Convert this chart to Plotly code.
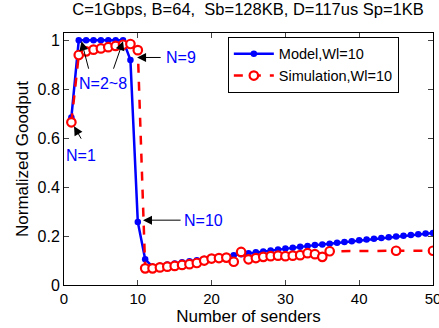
import plotly.graph_objects as go

# ---- data ----
model_x = list(range(1, 51))
model_y = [0.685, 1.0, 1.0, 1.0, 1.0, 1.0, 1.0, 1.0, 0.92, 0.258,
           0.105, 0.075, 0.079, 0.084, 0.088, 0.093, 0.097, 0.101, 0.106, 0.110,
           0.114, 0.118, 0.122, 0.126, 0.130, 0.134, 0.137, 0.141, 0.145, 0.149,
           0.152, 0.156, 0.159, 0.163, 0.166, 0.169, 0.173, 0.176, 0.179, 0.183,
           0.186, 0.189, 0.192, 0.195, 0.198, 0.201, 0.204, 0.207, 0.210, 0.213]

sim_x = list(range(1, 37)) + [45, 50]
sim_y = [0.665, 0.94, 0.955, 0.962, 0.967, 0.972, 0.977, 0.982, 0.985, 0.96,
         0.068, 0.068, 0.072, 0.075, 0.078, 0.082, 0.085, 0.090, 0.100, 0.108,
         0.110, 0.112, 0.095, 0.135, 0.105, 0.110, 0.115, 0.118, 0.120, 0.118,
         0.120, 0.122, 0.130, 0.126, 0.115, 0.138, 0.140, 0.140]

title_text = "C=1Gbps, B=64,  Sb=128KB, D=117us Sp=1KB"
x_ticks = [0, 10, 20, 30, 40, 50]
y_ticks = [0, 0.2, 0.4, 0.6, 0.8, 1]
y_tick_labels = ["0", "0.2", "0.4", "0.6", "0.8", "1"]

FONT = "Liberation Sans, Arial, sans-serif"

fig = go.Figure()
fig.add_trace(go.Scatter(
    x=model_x, y=model_y, mode="lines+markers", name="Model,Wl=10",
    line=dict(color="#0000FF", width=2.5),
    marker=dict(color="#0000FF", size=6.5, symbol="circle"),
))
fig.add_trace(go.Scatter(
    x=sim_x, y=sim_y, mode="lines+markers", name="Simulation,Wl=10",
    line=dict(color="#FF0000", width=2.5, dash="dash"),
    marker=dict(color="white", size=8.5, symbol="circle",
                line=dict(color="#FF0000", width=2.2)),
))

ann = []
def arrow(hx, hy, tx, ty):
    ann.append(dict(x=hx, y=hy, ax=tx, ay=ty, xref="x", yref="y",
                    axref="x", ayref="y", text="", showarrow=True,
                    arrowhead=2, arrowsize=1.8, arrowwidth=1, arrowcolor="black"))

def label(x, y, t):
    ann.append(dict(x=x, y=y, xref="x", yref="y", text=t, showarrow=False,
                    font=dict(color="#0000FF", size=16, family=FONT)))

arrow(1.36, 0.649, 2.44, 0.592)
label(2.3, 0.53, "N=1")
arrow(2.37, 0.996, 3.39, 0.878)
arrow(8.0, 0.996, 6.64, 0.878)
label(5.3, 0.825, "N=2~8")
arrow(9.9, 0.93, 13.3, 0.93)
label(15.9, 0.93, "N=9")
arrow(10.7, 0.265, 16.0, 0.265)
label(18.9, 0.265, "N=10")

fig.update_layout(
    width=439, height=328,
    margin=dict(l=64, r=6, t=33, b=43, autoexpand=False),
    paper_bgcolor="white", plot_bgcolor="white",
    font=dict(family=FONT, size=14, color="black"),
    title=dict(text=title_text, x=0.565, xanchor="center", y=0.99, yanchor="top",
               font=dict(size=16.5, family=FONT)),
    showlegend=True,
    legend=dict(x=0.444, y=0.985, xanchor="left", yanchor="top",
                bordercolor="black", borderwidth=1, bgcolor="white",
                font=dict(size=14.5, family=FONT), tracegroupgap=0,
                itemwidth=40),
    annotations=ann,
)
fig.update_xaxes(range=[0, 50], tickvals=x_ticks, ticks="inside", ticklen=5,
                 showline=True, linecolor="black", linewidth=1, mirror="ticks",
                 showgrid=False, zeroline=False, ticklabeloverflow="allow",
                 automargin=False,
                 title=dict(text="Number of senders", standoff=2),
                 tickfont=dict(size=15))
fig.update_yaxes(range=[0, 1.03], tickvals=y_ticks, ticktext=y_tick_labels,
                 ticks="inside", ticklen=5,
                 showline=True, linecolor="black", linewidth=1, mirror="ticks",
                 showgrid=False, zeroline=False, ticklabeloverflow="allow",
                 automargin=False,
                 title=dict(text="Normalized Goodput", standoff=4),
                 tickfont=dict(size=16))

fig.write_html("out.html")
